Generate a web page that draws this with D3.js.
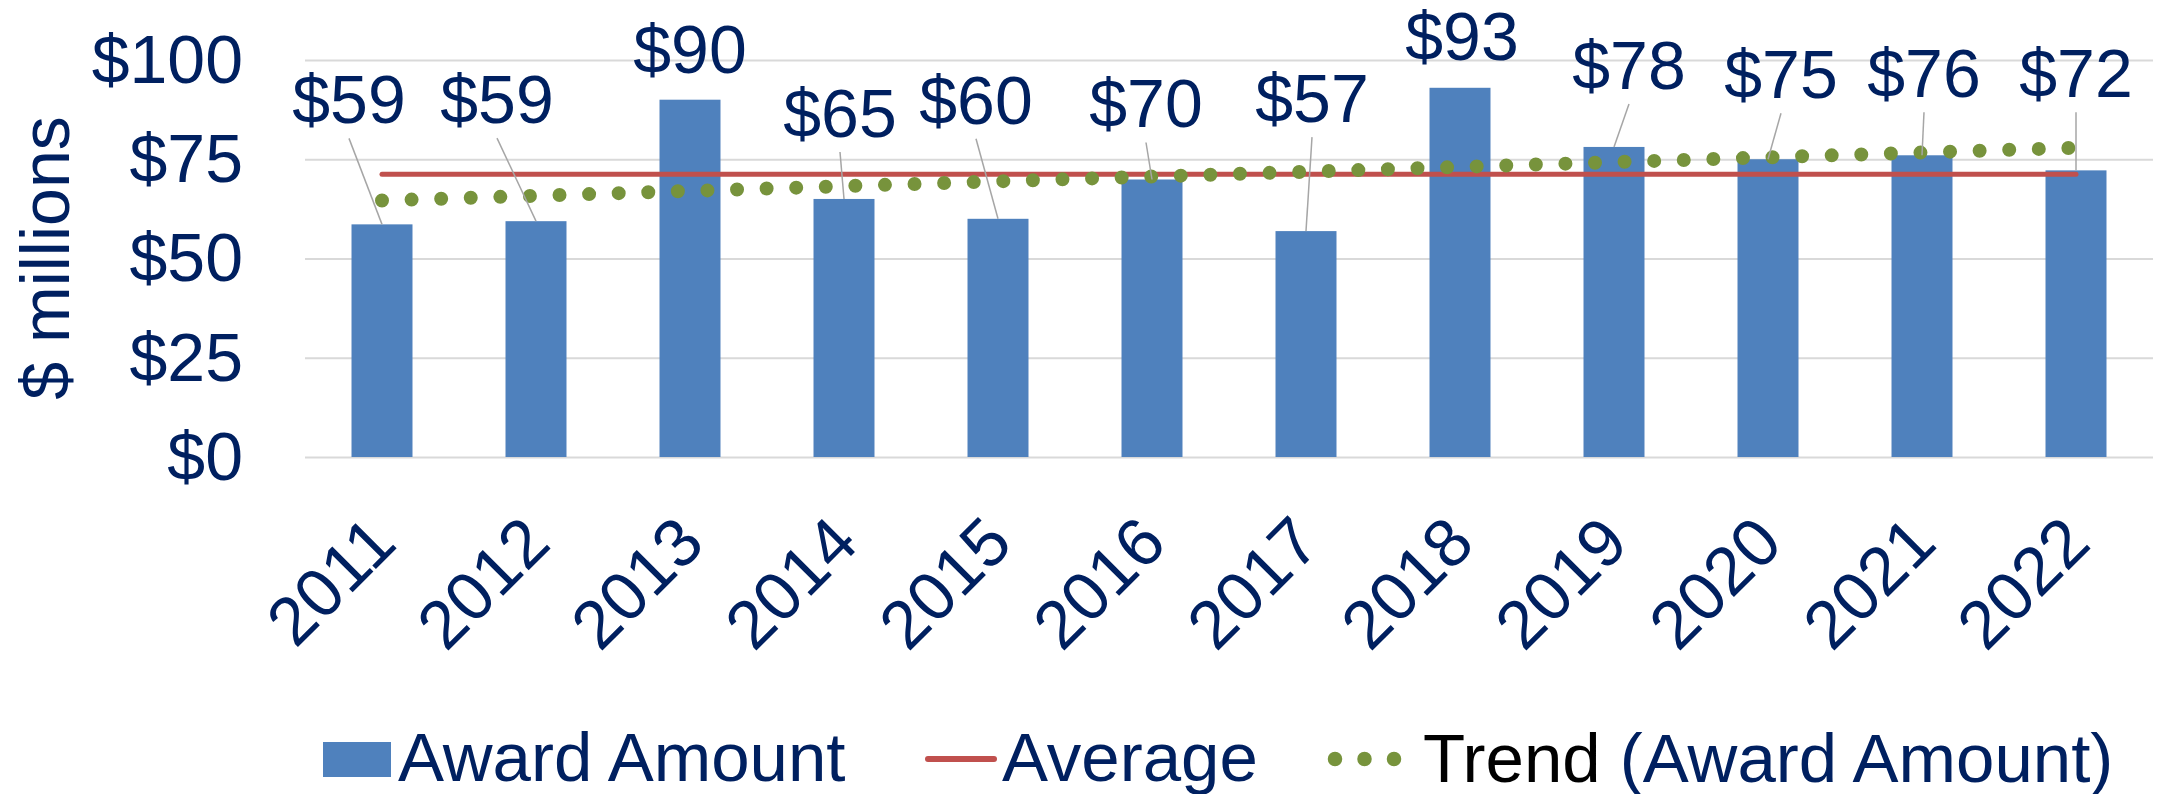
<html>
<head>
    <style>
        body { margin: 0; background: #fff; }
        text { font-family: "Liberation Sans", Arial, sans-serif; fill: #002060; }
    </style>
</head>
<body>
    <svg id="container" width="2164" height="794"></svg>
</body>
<script src="https://d3js.org/d3.v7.min.js"></script>
<script>
    // data
    const years = ["2011", "2012", "2013", "2014", "2015", "2016", "2017", "2018", "2019", "2020", "2021", "2022"]
    const awards = [58.6, 59.4, 90.0, 65.0, 60.0, 69.9, 56.9, 93.0, 78.1, 75.0, 76.0, 72.2]
    const average = 71.2
    const trendEnds = [64.6, 77.9]   // trend value at first and last year
    const yTicks = [0, 25, 50, 75, 100]

    // label nudges [dx, dy] from bar top centre (moved labels, as in the original)
    const labelNudge = [[-33, -101], [-39, -98], [0, -27], [-4, -62], [-22, -95], [-6, -52],
                        [6, -109], [2, -28], [15, -58], [13, -61], [2, -58], [0, -73]]

    const svg = d3.select("#container")
    const plotLeft = 305, plotRight = 2153, plotTop = 60, plotBottom = 457
    const fontSize = 68

    let data = years.map((y, i) => ({
        year: y,
        value: awards[i],
        dx: labelNudge[i][0],
        dy: labelNudge[i][1]
    }))

    let xScale = d3.scaleBand()
        .domain(years)
        .range([plotLeft, plotRight])
        .paddingInner(0.604)
        .paddingOuter(0.302)

    let yScale = d3.scaleLinear()
        .domain([0, 100])
        .range([plotBottom, plotTop])

    const cx = d => xScale(d.year) + xScale.bandwidth() / 2

    // gridlines + y tick labels
    let yAxis = svg.append("g")
        .attr("transform", "translate(" + plotLeft + ",0)")
        .call(d3.axisLeft(yScale)
            .tickValues(yTicks)
            .tickSize(-(plotRight - plotLeft))
            .tickPadding(62)
            .tickFormat(d => "$" + d))
    yAxis.select(".domain").remove()
    yAxis.selectAll("line").attr("stroke", "#D9D9D9").attr("stroke-width", 2)
    yAxis.selectAll("text")
        .style("font-size", fontSize + "px")
        .attr("fill", "#002060")
        .attr("dy", "0.33em")

    // y axis title
    svg.append("text")
        .attr("transform", "translate(69,258) rotate(-90)")
        .attr("text-anchor", "middle")
        .style("font-size", fontSize + "px")
        .text("$ millions")

    // bars
    svg.append("g").selectAll("rect")
        .data(data)
        .join("rect")
        .attr("x", d => xScale(d.year))
        .attr("y", d => yScale(d.value))
        .attr("width", xScale.bandwidth())
        .attr("height", d => yScale(0) - yScale(d.value))
        .attr("fill", "#4F81BD")

    // average line
    svg.append("line")
        .attr("x1", cx(data[0])).attr("x2", cx(data[data.length - 1]))
        .attr("y1", yScale(average)).attr("y2", yScale(average))
        .attr("stroke", "#C0504D")
        .attr("stroke-width", 5)
        .attr("stroke-linecap", "round")

    // trend line (dotted)
    svg.append("line")
        .attr("x1", cx(data[0])).attr("x2", cx(data[data.length - 1]))
        .attr("y1", yScale(trendEnds[0])).attr("y2", yScale(trendEnds[1]))
        .attr("stroke", "#77933C")
        .attr("stroke-width", 14)
        .attr("stroke-linecap", "round")
        .attr("stroke-dasharray", "0 29.6")

    // leader lines for labels that were dragged away
    svg.append("g").selectAll("line")
        .data(data.filter(d => d.dy < -40))
        .join("line")
        .attr("x1", d => cx(d) + d.dx)
        .attr("y1", d => yScale(d.value) + d.dy + 15)
        .attr("x2", d => cx(d))
        .attr("y2", d => yScale(d.value))
        .attr("stroke", "#A6A6A6")
        .attr("stroke-width", 1.5)

    // data labels
    svg.append("g").selectAll("text")
        .data(data)
        .join("text")
        .attr("x", d => cx(d) + d.dx)
        .attr("y", d => yScale(d.value) + d.dy)
        .attr("text-anchor", "middle")
        .style("font-size", fontSize + "px")
        .text(d => "$" + Math.round(d.value))

    // x axis labels
    let xAxis = svg.append("g")
        .attr("transform", "translate(0," + plotBottom + ")")
        .call(d3.axisBottom(xScale).tickSize(0))
    xAxis.select(".domain").remove()
    xAxis.selectAll("text")
        .attr("fill", "#002060")
        .style("font-size", fontSize + "px")
        .attr("text-anchor", "end")
        .attr("dy", null)
        .attr("y", 0)
        .attr("transform", "translate(17,89) rotate(-45)")

    // legend
    let legend = svg.append("g")
    legend.append("rect")
        .attr("x", 323).attr("y", 742).attr("width", 68).attr("height", 35)
        .attr("fill", "#4F81BD")
    legend.append("text")
        .attr("x", 398).attr("y", 781)
        .style("font-size", "69px")
        .text("Award Amount")

    legend.append("line")
        .attr("x1", 928).attr("x2", 994).attr("y1", 759).attr("y2", 759)
        .attr("stroke", "#C0504D").attr("stroke-width", 6).attr("stroke-linecap", "round")
    legend.append("text")
        .attr("x", 1002).attr("y", 781)
        .style("font-size", "69px")
        .text("Average")

    legend.append("line")
        .attr("x1", 1335).attr("x2", 1395).attr("y1", 759).attr("y2", 759)
        .attr("stroke", "#77933C").attr("stroke-width", 14.5).attr("stroke-linecap", "round")
        .attr("stroke-dasharray", "0 29.5")
    let trendText = legend.append("text")
        .attr("x", 1423).attr("y", 782)
        .style("font-size", "69px")
    trendText.append("tspan").style("fill", "#000").text("Trend ")
    trendText.append("tspan").text("(Award Amount)")
</script>
</html>
